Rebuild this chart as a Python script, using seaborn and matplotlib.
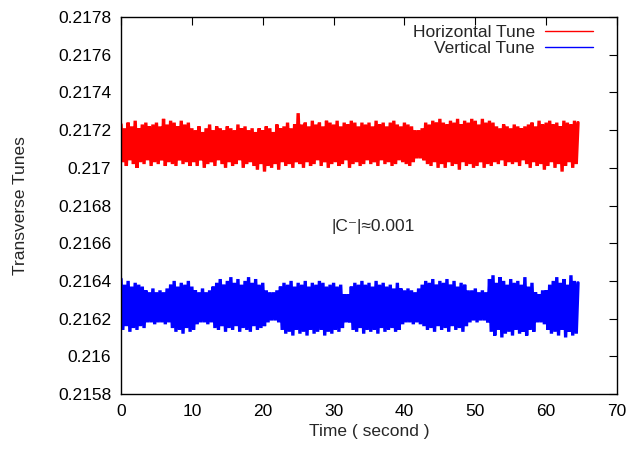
import numpy as np
import pandas as pd
import matplotlib
matplotlib.use("Agg")
import matplotlib.pyplot as plt
from matplotlib.ticker import FuncFormatter, MultipleLocator
import seaborn as sns

sns.set_theme(style="white")
plt.rcParams["font.family"] = ["Liberation Sans", "DejaVu Sans"]

# tune readings, in units of 1e-5 around a base value
# peaks sampled every 0.5 s starting at 0 s, troughs in between (0.25 s, 0.75 s, ...)
step = 0.5
h_base = 0.21712
v_base = 0.21626

h_peaks = [11, 9, 12, 10, 13, 9, 11, 12, 10, 11,
           12, 10, 14, 11, 13, 12, 10, 13, 11, 12,
           9, 8, 10, 7, 9, 11, 8, 10, 9, 8,
           10, 9, 8, 11, 9, 10, 8, 9, 7, 9,
           8, 10, 9, 7, 11, 9, 10, 12, 9, 11,
           17, 11, 12, 10, 13, 11, 12, 10, 13, 12,
           11, 13, 10, 12, 11, 13, 12, 10, 12, 11,
           12, 10, 13, 11, 12, 10, 12, 13, 11, 10,
           12, 11, 10, 8, 8, 9, 12, 11, 13, 12,
           14, 12, 11, 13, 12, 14, 11, 13, 12, 14,
           13, 11, 14, 12, 13, 12, 10, 9, 11, 10,
           9, 11, 10, 9, 10, 11, 12, 10, 13, 11,
           12, 13, 11, 12, 10, 13, 12, 11, 13, 12]
h_troughs = [-9, -11, -8, -10, -12, -9, -10, -8, -11, -9,
             -10, -8, -11, -9, -10, -11, -8, -10, -9, -11,
             -9, -11, -8, -12, -10, -9, -11, -8, -10, -12,
             -9, -11, -10, -8, -12, -10, -9, -11, -13, -10,
             -14, -11, -12, -10, -13, -9, -11, -10, -12, -9,
             -10, -12, -9, -11, -10, -8, -11, -9, -12, -10,
             -9, -11, -10, -8, -12, -10, -9, -11, -10, -8,
             -10, -9, -11, -8, -10, -9, -11, -10, -8, -9,
             -10, -11, -9, -7, -7, -8, -10, -11, -9, -12,
             -10, -12, -9, -11, -10, -13, -9, -11, -10, -12,
             -11, -9, -12, -10, -11, -9, -10, -8, -11, -9,
             -10, -9, -11, -8, -10, -12, -9, -11, -10, -13,
             -11, -9, -12, -10, -14, -11, -9, -12, -10]

v_peaks = [15, 12, 14, 11, 13, 12, 11, 9, 8, 10,
           8, 9, 8, 10, 12, 14, 11, 13, 12, 14,
           11, 9, 8, 10, 8, 9, 11, 13, 15, 12,
           14, 16, 13, 15, 12, 14, 16, 13, 15, 12,
           13, 9, 8, 8, 9, 11, 13, 12, 14, 11,
           13, 12, 14, 11, 13, 12, 14, 13, 11, 12,
           13, 11, 12, 7, 7, 11, 13, 12, 14, 12,
           13, 11, 14, 12, 13, 11, 12, 10, 13, 10,
           9, 10, 9, 8, 10, 12, 14, 13, 15, 12,
           14, 13, 15, 12, 14, 11, 13, 12, 9, 9,
           10, 8, 9, 8, 15, 17, 13, 16, 14, 12,
           15, 13, 14, 12, 16, 11, 13, 8, 7, 9,
           9, 12, 14, 16, 13, 15, 12, 17, 14, 13]
v_troughs = [-12, -10, -13, -11, -12, -10, -11, -8, -8, -9,
             -8, -8, -9, -8, -11, -13, -12, -14, -11, -13,
             -12, -9, -8, -8, -9, -8, -11, -12, -10, -13,
             -11, -12, -10, -13, -11, -12, -13, -10, -12, -11,
             -10, -8, -7, -7, -8, -12, -14, -13, -15, -12,
             -14, -13, -15, -12, -14, -13, -12, -15, -13, -14,
             -12, -13, -11, -8, -8, -12, -13, -11, -14, -12,
             -13, -12, -14, -11, -13, -12, -11, -13, -12, -9,
             -8, -8, -9, -8, -9, -10, -12, -11, -13, -10,
             -12, -11, -13, -10, -12, -11, -13, -10, -8, -7,
             -8, -7, -7, -8, -13, -15, -12, -16, -14, -13,
             -15, -12, -14, -13, -15, -12, -13, -8, -8, -9,
             -12, -14, -13, -15, -12, -16, -13, -15, -14]


def series(base, peaks, troughs):
    n = len(peaks) + len(troughs)
    t = np.empty(n)
    v = np.empty(n)
    t[0::2] = step * np.arange(len(peaks))
    t[1::2] = step * np.arange(len(troughs)) + step / 2
    v[0::2] = base + np.array(peaks) * 1e-5
    v[1::2] = base + np.array(troughs) * 1e-5
    return pd.DataFrame({"time": t, "tune": v})


h = series(h_base, h_peaks, h_troughs)
v = series(v_base, v_peaks, v_troughs)

fig = plt.figure(figsize=(6.37, 4.49), dpi=100)
ax = fig.add_axes([0.19, 0.1225, 0.7786, 0.8395])

sns.lineplot(data=h, x="time", y="tune", ax=ax, color="#ff0000", lw=2.4,
             estimator=None, sort=False, label="Horizontal Tune",
             solid_joinstyle="miter")
sns.lineplot(data=v, x="time", y="tune", ax=ax, color="#0000ff", lw=2.4,
             estimator=None, sort=False, label="Vertical Tune",
             solid_joinstyle="miter")

ax.set_xlim(0, 70)
ax.set_ylim(0.2158, 0.2178)
ax.xaxis.set_major_locator(MultipleLocator(10))
ax.yaxis.set_major_locator(MultipleLocator(0.0002))
ax.yaxis.set_major_formatter(FuncFormatter(lambda y, p: f"{y:.4f}".rstrip("0").rstrip(".")))
ax.tick_params(direction="in", length=6, width=0.8, color="black", labelsize=12.5,
               top=True, right=True, pad=7, labelcolor="black")
for s in ax.spines.values():
    s.set_color("black")
    s.set_linewidth(1.0)

ax.set_xlabel("Time ( second )", fontsize=12.5, labelpad=4)
ax.set_ylabel("Transverse Tunes", fontsize=12.5, labelpad=22)

ax.text(0.508, 0.445, "|C\u207b|\u22480.001", transform=ax.transAxes,
        fontsize=12.5, ha="center", va="center")

leg = ax.legend(loc="upper right", bbox_to_anchor=(0.9516, 0.979), frameon=False,
                markerfirst=False, fontsize=12.5, handlelength=2.75, handletextpad=0.6,
                labelspacing=0.06, borderaxespad=0.0, borderpad=0.0)
for col in leg._legend_handle_box.get_children():
    col.align = "right"
for line in leg.get_lines():
    line.set_linewidth(1.0)

fig.savefig("out.png", dpi=100)
